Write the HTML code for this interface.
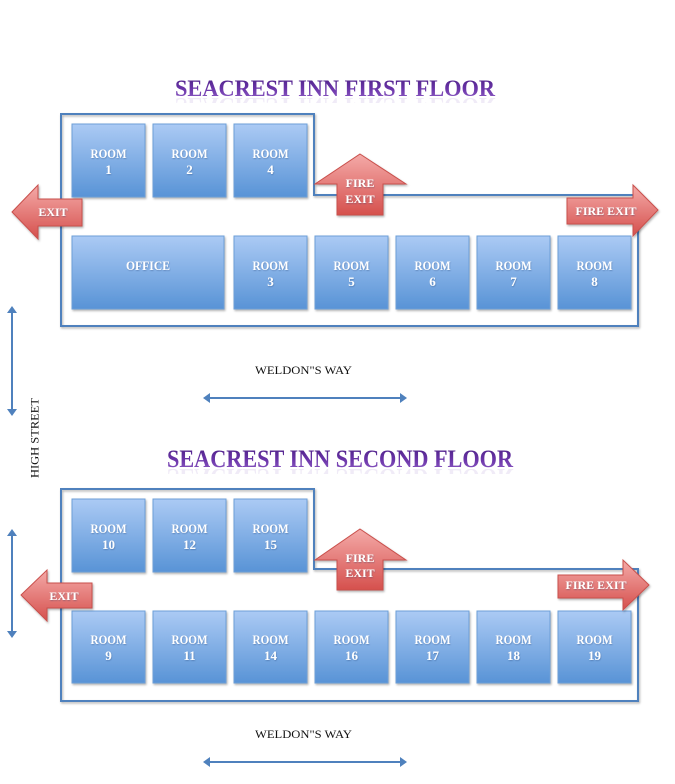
<!DOCTYPE html>
<html>
<head>
<meta charset="utf-8">
<style>
html,body{margin:0;padding:0;background:#fff;}
svg{display:block;}
.rt{font-family:"Liberation Serif",serif;font-size:13px;font-weight:bold;fill:#fff;text-anchor:middle;}
.et{font-family:"Liberation Serif",serif;font-size:12px;font-weight:bold;fill:#fff;text-anchor:middle;}
.st{font-family:"Liberation Serif",serif;font-size:12px;fill:#111;text-anchor:middle;}
.tt{font-family:"Liberation Serif",serif;font-weight:bold;}
</style>
</head>
<body>
<svg width="675" height="784" viewBox="0 0 675 784" xmlns="http://www.w3.org/2000/svg">
<defs>
  <linearGradient id="gb" x1="0" y1="0" x2="0" y2="1">
    <stop offset="0" stop-color="#abcaf4"/>
    <stop offset="1" stop-color="#5893d6"/>
  </linearGradient>
  <linearGradient id="gr" x1="0" y1="0" x2="0" y2="1">
    <stop offset="0" stop-color="#f4aaa8"/>
    <stop offset="1" stop-color="#d5504d"/>
  </linearGradient>
  <linearGradient id="gp" x1="0" y1="0" x2="0" y2="1">
    <stop offset="0" stop-color="#4a1f82"/>
    <stop offset="0.5" stop-color="#6a34a8"/>
    <stop offset="1" stop-color="#9262c8"/>
  </linearGradient>
  <filter id="sh" x="-10%" y="-10%" width="130%" height="130%">
    <feDropShadow dx="1" dy="1.5" stdDeviation="1" flood-color="#000" flood-opacity="0.3"/>
  </filter>
  <filter id="ts" x="-10%" y="-30%" width="130%" height="160%">
    <feDropShadow dx="0.5" dy="0.8" stdDeviation="0.6" flood-color="#203c70" flood-opacity="0.4"/>
  </filter>
  <clipPath id="c1"><rect x="160" y="98" width="360" height="5"/></clipPath>
  <clipPath id="c2"><rect x="160" y="469" width="370" height="5"/></clipPath>
</defs>

<!-- Titles -->
<text class="tt" x="175" y="96" font-size="23" fill="url(#gp)" textLength="320" lengthAdjust="spacingAndGlyphs">SEACREST INN FIRST FLOOR</text>
<g clip-path="url(#c1)">
<text class="tt" x="175" y="-98" font-size="23" fill="#7a4ab8" opacity="0.1" transform="scale(1,-1)" textLength="320" lengthAdjust="spacingAndGlyphs">SEACREST INN FIRST FLOOR</text>
</g>
<text class="tt" x="167" y="467" font-size="25" fill="url(#gp)" textLength="346" lengthAdjust="spacingAndGlyphs">SEACREST INN SECOND FLOOR</text>
<g clip-path="url(#c2)">
<text class="tt" x="167" y="-469" font-size="25" fill="#7a4ab8" opacity="0.1" transform="scale(1,-1)" textLength="346" lengthAdjust="spacingAndGlyphs">SEACREST INN SECOND FLOOR</text>
</g>

<!-- Outlines -->
<path d="M61,114 H314 V195 H638 V326 H61 Z" fill="none" stroke="#4f81bd" stroke-width="2" filter="url(#sh)"/>
<path d="M61,489 H314 V569 H638 V701 H61 Z" fill="none" stroke="#4f81bd" stroke-width="2" filter="url(#sh)"/>

<!-- First floor rooms -->
<g fill="url(#gb)" stroke="#6d9fd8" stroke-width="1" filter="url(#sh)">
  <rect x="72" y="124" width="73" height="73"/>
  <rect x="153" y="124" width="73" height="73"/>
  <rect x="234" y="124" width="73" height="73"/>
  <rect x="72" y="236" width="152" height="73"/>
  <rect x="234" y="236" width="73" height="73"/>
  <rect x="315" y="236" width="73" height="73"/>
  <rect x="396" y="236" width="73" height="73"/>
  <rect x="477" y="236" width="73" height="73"/>
  <rect x="558" y="236" width="73" height="73"/>
</g>
<g filter="url(#ts)">
  <text class="rt" x="108.5" y="158" textLength="36" lengthAdjust="spacingAndGlyphs">ROOM</text><text class="rt" x="108.5" y="174">1</text>
  <text class="rt" x="189.5" y="158" textLength="36" lengthAdjust="spacingAndGlyphs">ROOM</text><text class="rt" x="189.5" y="174">2</text>
  <text class="rt" x="270.5" y="158" textLength="36" lengthAdjust="spacingAndGlyphs">ROOM</text><text class="rt" x="270.5" y="174">4</text>
  <text class="rt" x="148" y="270" textLength="44" lengthAdjust="spacingAndGlyphs">OFFICE</text>
  <text class="rt" x="270.5" y="270" textLength="36" lengthAdjust="spacingAndGlyphs">ROOM</text><text class="rt" x="270.5" y="286">3</text>
  <text class="rt" x="351.5" y="270" textLength="36" lengthAdjust="spacingAndGlyphs">ROOM</text><text class="rt" x="351.5" y="286">5</text>
  <text class="rt" x="432.5" y="270" textLength="36" lengthAdjust="spacingAndGlyphs">ROOM</text><text class="rt" x="432.5" y="286">6</text>
  <text class="rt" x="513.5" y="270" textLength="36" lengthAdjust="spacingAndGlyphs">ROOM</text><text class="rt" x="513.5" y="286">7</text>
  <text class="rt" x="594.5" y="270" textLength="36" lengthAdjust="spacingAndGlyphs">ROOM</text><text class="rt" x="594.5" y="286">8</text>
</g>

<!-- Second floor rooms -->
<g fill="url(#gb)" stroke="#6d9fd8" stroke-width="1" filter="url(#sh)">
  <rect x="72" y="499" width="73" height="73"/>
  <rect x="153" y="499" width="73" height="73"/>
  <rect x="234" y="499" width="73" height="73"/>
  <rect x="72" y="611" width="73" height="72"/>
  <rect x="153" y="611" width="73" height="72"/>
  <rect x="234" y="611" width="73" height="72"/>
  <rect x="315" y="611" width="73" height="72"/>
  <rect x="396" y="611" width="73" height="72"/>
  <rect x="477" y="611" width="73" height="72"/>
  <rect x="558" y="611" width="73" height="72"/>
</g>
<g filter="url(#ts)">
  <text class="rt" x="108.5" y="533" textLength="36" lengthAdjust="spacingAndGlyphs">ROOM</text><text class="rt" x="108.5" y="549">10</text>
  <text class="rt" x="189.5" y="533" textLength="36" lengthAdjust="spacingAndGlyphs">ROOM</text><text class="rt" x="189.5" y="549">12</text>
  <text class="rt" x="270.5" y="533" textLength="36" lengthAdjust="spacingAndGlyphs">ROOM</text><text class="rt" x="270.5" y="549">15</text>
  <text class="rt" x="108.5" y="644" textLength="36" lengthAdjust="spacingAndGlyphs">ROOM</text><text class="rt" x="108.5" y="660">9</text>
  <text class="rt" x="189.5" y="644" textLength="36" lengthAdjust="spacingAndGlyphs">ROOM</text><text class="rt" x="189.5" y="660">11</text>
  <text class="rt" x="270.5" y="644" textLength="36" lengthAdjust="spacingAndGlyphs">ROOM</text><text class="rt" x="270.5" y="660">14</text>
  <text class="rt" x="351.5" y="644" textLength="36" lengthAdjust="spacingAndGlyphs">ROOM</text><text class="rt" x="351.5" y="660">16</text>
  <text class="rt" x="432.5" y="644" textLength="36" lengthAdjust="spacingAndGlyphs">ROOM</text><text class="rt" x="432.5" y="660">17</text>
  <text class="rt" x="513.5" y="644" textLength="36" lengthAdjust="spacingAndGlyphs">ROOM</text><text class="rt" x="513.5" y="660">18</text>
  <text class="rt" x="594.5" y="644" textLength="36" lengthAdjust="spacingAndGlyphs">ROOM</text><text class="rt" x="594.5" y="660">19</text>
</g>

<!-- Red arrows -->
<g fill="url(#gr)" stroke="#c9504c" stroke-width="1" filter="url(#sh)">
  <polygon points="12,212 38,185 38,199 82,199 82,226 38,226 38,239"/>
  <polygon points="360,154 406,184 383,184 383,215 337,215 337,184 315,184"/>
  <polygon points="567,198 633,198 633,185 658,210 633,236 633,224 567,224"/>
  <polygon points="21,595 47,570 47,583 92,583 92,608 47,608 47,621"/>
  <polygon points="360,529 406,560 383,560 383,590 337,590 337,560 315,560"/>
  <polygon points="558,575 623,575 623,560 649,585 623,610 623,598 558,598"/>
</g>
<g filter="url(#ts)">
<text class="et" x="53" y="216">EXIT</text>
<text class="et" x="360" y="187">FIRE</text>
<text class="et" x="360" y="203">EXIT</text>
<text class="et" x="606" y="215">FIRE EXIT</text>
<text class="et" x="64" y="600">EXIT</text>
<text class="et" x="360" y="562">FIRE</text>
<text class="et" x="360" y="577">EXIT</text>
<text class="et" x="596" y="589">FIRE EXIT</text>
</g>

<!-- Street arrows -->
<g stroke="#4f81bd" stroke-width="2" fill="none">
  <line x1="12" y1="312" x2="12" y2="410"/>
  <line x1="12" y1="535" x2="12" y2="632"/>
  <line x1="209" y1="398" x2="401" y2="398"/>
  <line x1="209" y1="762" x2="401" y2="762"/>
</g>
<g fill="#4f81bd">
  <polygon points="12,306 7,313 17,313"/>
  <polygon points="12,416 7,409 17,409"/>
  <polygon points="12,529 7,536 17,536"/>
  <polygon points="12,638 7,631 17,631"/>
  <polygon points="203,398 210,393 210,403"/>
  <polygon points="407,398 400,393 400,403"/>
  <polygon points="203,762 210,757 210,767"/>
  <polygon points="407,762 400,757 400,767"/>
</g>

<!-- Street labels -->
<text class="st" x="303.5" y="374" textLength="97" lengthAdjust="spacingAndGlyphs">WELDON"S WAY</text>
<text class="st" x="303.5" y="738" textLength="97" lengthAdjust="spacingAndGlyphs">WELDON"S WAY</text>
<text class="st" transform="translate(38.5,438) rotate(-90)" x="0" y="0" textLength="80" lengthAdjust="spacingAndGlyphs">HIGH STREET</text>
</svg>
</body>
</html>
